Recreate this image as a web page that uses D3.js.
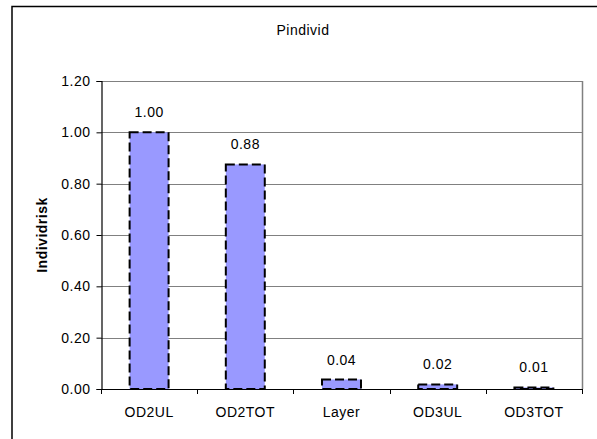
<!DOCTYPE html>
<html>
<head>
<meta charset="utf-8">
<script src="https://cdn.jsdelivr.net/npm/d3@7"></script>
<style>
  html, body { margin: 0; padding: 0; background: #fff; }
  svg { display: block; font-family: "Liberation Sans", Arial, sans-serif; }
  text { letter-spacing: 0.5px; }
</style>
</head>
<body>
<svg id="chart" width="597" height="439"></svg>
<script>
const categories = ["OD2UL", "OD2TOT", "Layer", "OD3UL", "OD3TOT"];
const values = [1.00, 0.875, 0.037, 0.018, 0.006];
const valueLabels = ["1.00", "0.88", "0.04", "0.02", "0.01"];
const yTicks = [0, 0.2, 0.4, 0.6, 0.8, 1.0, 1.2];
const title = "Pindivid";
const yTitle = "Individrisk";

const svg = d3.select("#chart");
const pLeft = 101, pRight = 582, pTop = 81, pBottom = 389;
const fs = 14;

// outer chart border
svg.append("rect").attr("x", 12).attr("y", 6.5).attr("width", 600).attr("height", 450)
  .attr("fill", "none").attr("stroke", "#000").attr("stroke-width", 1.5);

const x = d3.scaleBand().domain(categories).range([pLeft, pRight]).paddingInner(0.595).paddingOuter(0.2975);
const y = d3.scaleLinear().domain([0, 1.2]).range([pBottom, pTop]);

// gridlines
svg.append("g").selectAll("line").data(yTicks.filter(d => d > 0)).join("line")
  .attr("x1", pLeft).attr("x2", pRight)
  .attr("y1", d => Math.round(y(d)) + 0.5).attr("y2", d => Math.round(y(d)) + 0.5)
  .attr("stroke", "#808080").attr("stroke-width", 1);
// right plot border
svg.append("line").attr("x1", pRight + 0.5).attr("x2", pRight + 0.5).attr("y1", pTop).attr("y2", pBottom)
  .attr("stroke", "#808080").attr("stroke-width", 1.5);

// bars
svg.append("g").selectAll("rect").data(values).join("rect")
  .attr("x", (d, i) => x(categories[i]))
  .attr("width", x.bandwidth())
  .attr("y", d => y(d))
  .attr("height", d => pBottom - y(d))
  .attr("fill", "#9999FF")
  .attr("stroke", "#000").attr("stroke-width", 2).attr("stroke-dasharray", "9,4");

// value labels
svg.append("g").selectAll("text").data(values).join("text")
  .attr("x", (d, i) => x(categories[i]) + x.bandwidth() / 2)
  .attr("y", d => y(d) - 15)
  .attr("text-anchor", "middle").attr("font-size", fs).attr("fill", "#000")
  .text((d, i) => valueLabels[i]);

// y axis
const yAxis = d3.axisLeft(y).tickValues(yTicks).tickFormat(d3.format(".2f")).tickSize(5).tickPadding(6);
const gy = svg.append("g").attr("transform", `translate(${pLeft + 0.5},0)`).call(yAxis);
gy.selectAll("text").attr("font-size", fs).attr("font-family", "Liberation Sans, Arial, sans-serif").attr("fill", "#000");
gy.selectAll("line").attr("stroke", "#000");
gy.select(".domain").attr("stroke", "#000").attr("stroke-width", 1.2);

// x axis
const xTickPos = d3.range(categories.length + 1).map(i => pLeft + i * (pRight - pLeft) / categories.length);
const gx = svg.append("g");
gx.append("line").attr("x1", pLeft).attr("x2", pRight + 1).attr("y1", pBottom + 0.5).attr("y2", pBottom + 0.5)
  .attr("stroke", "#000").attr("stroke-width", 1.2);
gx.selectAll("line.tick").data(xTickPos).join("line").attr("class", "tick")
  .attr("x1", d => Math.round(d) + 0.5).attr("x2", d => Math.round(d) + 0.5)
  .attr("y1", pBottom).attr("y2", pBottom + 5).attr("stroke", "#000");
gx.selectAll("text").data(categories).join("text")
  .attr("x", d => x(d) + x.bandwidth() / 2).attr("y", pBottom + 28)
  .attr("text-anchor", "middle").attr("font-size", fs).attr("fill", "#000")
  .text(d => d);

// title
svg.append("text").attr("x", 303).attr("y", 35).attr("text-anchor", "middle")
  .attr("font-size", fs).attr("fill", "#000").text(title);

// y title
svg.append("text").attr("transform", `translate(47,${(pTop + pBottom) / 2}) rotate(-90)`)
  .attr("text-anchor", "middle").attr("font-size", fs).attr("font-weight", "bold")
  .attr("fill", "#000").text(yTitle);
</script>
</body>
</html>
